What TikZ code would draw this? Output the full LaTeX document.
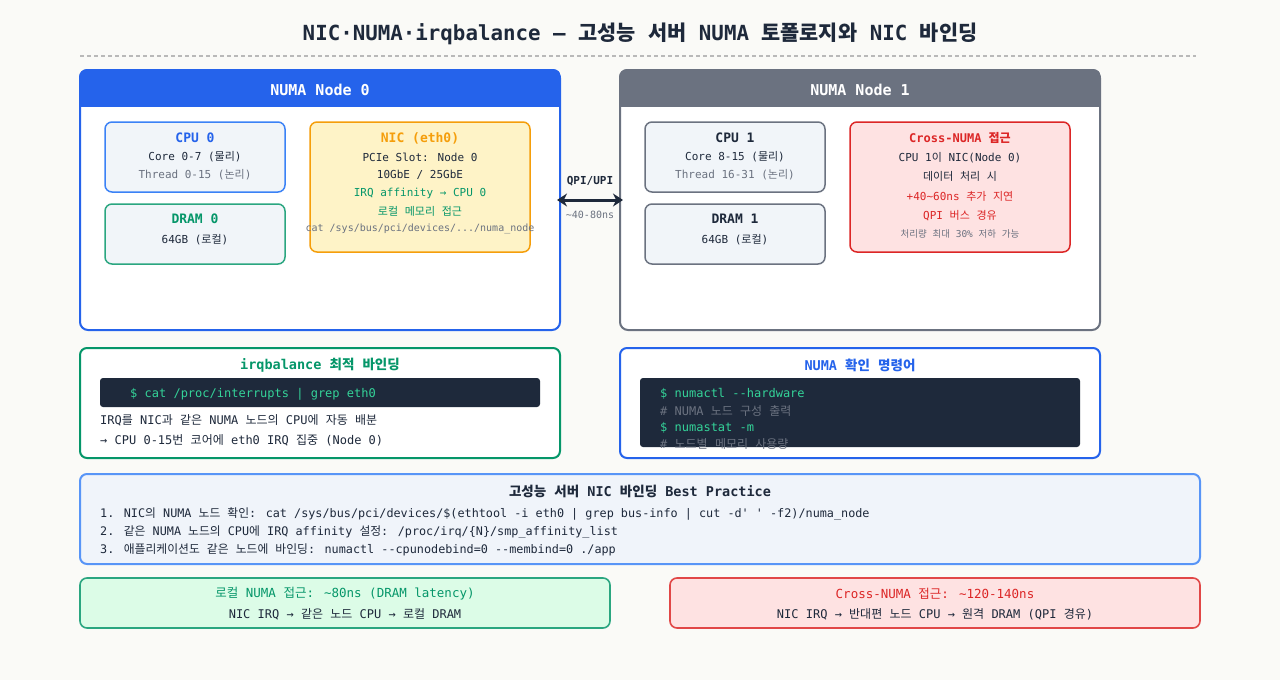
\documentclass[tikz,border=0pt]{standalone}
\usepackage{fontspec}
\setmainfont{DejaVu Sans Mono}[Ligatures=TeXOff]
\newfontfamily\krfont{Noto Sans CJK KR}
% Hangul goes to the CJK font, everything else stays mono
\XeTeXinterchartokenstate=1
\newXeTeXintercharclass\krclass
\count255="AC00
\loop
  \XeTeXcharclass\count255=\krclass
  \ifnum\count255<"D7A3 \advance\count255 by 1 \repeat
\XeTeXinterchartoks 0 \krclass={\krfont}
\XeTeXinterchartoks 4095 \krclass={\krfont}
\XeTeXinterchartoks \krclass 0={\rmfamily}
\XeTeXinterchartoks \krclass 4095={\rmfamily}
\usepackage{tikz}
\usetikzlibrary{arrows.meta,positioning}
\definecolor{bg}{RGB}{250,250,247}
\definecolor{ink}{RGB}{30,41,59}
\definecolor{nblue}{RGB}{37,99,235}
\definecolor{ngray}{RGB}{107,114,128}
\definecolor{cpub}{RGB}{59,130,246}
\definecolor{paleb}{RGB}{241,245,249}
\definecolor{dgreen}{RGB}{5,150,105}
\definecolor{lgreen}{RGB}{220,252,231}
\definecolor{amber}{RGB}{245,158,11}
\definecolor{pale}{RGB}{254,243,199}
\definecolor{alert}{RGB}{220,38,38}
\definecolor{pink}{RGB}{254,226,226}
\definecolor{mute}{RGB}{107,114,128}
\definecolor{codebg}{RGB}{30,41,59}
\definecolor{codegr}{RGB}{52,211,153}
\definecolor{bpfill}{RGB}{240,244,250}
\newcommand\tld{\char"7E\relax}

\begin{document}
\begin{tikzpicture}[x=1pt,y=-1pt,
  numabox/.style={draw,fill=white,rounded corners=8pt,line width=2pt,minimum width=480pt,minimum height=260pt},
  hdrtext/.style={text=white,inner sep=0pt,font=\bfseries\fontsize{15}{18}\selectfont},
  inbox/.style={draw,rounded corners=7pt,line width=1.5pt},
  panel/.style={draw,rounded corners=7pt,line width=2pt},
  ttl/.style={inner sep=0pt,font=\bfseries\fontsize{13}{16}\selectfont},
  txt/.style={inner sep=0pt,text=ink,font=\fontsize{11}{13}\selectfont},
  small/.style={inner sep=0pt,font=\fontsize{10}{12}\selectfont},
  line/.style={inner sep=0pt,text=ink,anchor=west,font=\fontsize{12}{14}\selectfont},
  codebar/.style={fill=codebg,rounded corners=3pt,inner sep=0pt},
  code/.style={inner sep=0pt,anchor=west,font=\fontsize{12}{14}\selectfont}]
  \fill[bg] (0,0) rectangle (1280,680);
  \useasboundingbox (0,0) rectangle (1280,680);
  % title
  \node[text=ink,font=\bfseries\fontsize{20.8}{24}\selectfont] (title) at (640,34) {NIC·NUMA·irqbalance — 고성능 서버 NUMA 토폴로지와 NIC 바인딩};
  \draw[gray!55,line width=1.2pt,dash pattern=on 4pt off 3pt] (80,56) -- (1196,56);
  % NUMA node 0
  \node[numabox,draw=nblue] (node0) at (320,200) {};
  \begin{scope}
    \clip[rounded corners=8pt] (node0.north west) rectangle (node0.south east);
    \fill[nblue] (node0.north west) rectangle ([yshift=-38pt]node0.north east);
  \end{scope}
  \node[hdrtext] (node0t) at (320,90) {NUMA Node 0};
  \node[inbox,draw=cpub,fill=paleb,minimum width=180pt,minimum height=70pt] (cpu0) at (195,157) {};
  \node[ttl,text=nblue] (cpu0t) at (195,138) {CPU 0};
  \node[txt] (cpu0a) at (195,157) {Core 0-7 (물리)};
  \node[txt,text=mute] (cpu0b) at (195,175) {Thread 0-15 (논리)};
  \node[inbox,draw=dgreen!85,fill=paleb,minimum width=180pt,minimum height=60pt] (dram0) at (195,234) {};
  \node[ttl,text=dgreen] (dram0t) at (195,219) {DRAM 0};
  \node[txt] (dram0a) at (195,240) {64GB (로컬)};
  \node[inbox,draw=amber,fill=pale,minimum width=220pt,minimum height=130pt] (nic) at (420,187) {};
  \node[ttl,text=amber] (nict) at (420,138) {NIC (eth0)};
  \node[txt] (nica) at (420,157) {PCIe Slot: Node 0};
  \node[txt] (nicb) at (420,175) {10GbE / 25GbE};
  \node[txt,text=dgreen] (nicc) at (420,193) {IRQ affinity → CPU 0};
  \node[txt,text=dgreen] (nicd) at (420,211) {로컬 메모리 접근};
  \node[small,text=mute] (nice) at (420,229) {cat /sys/bus/pci/devices/.../numa\_node};
  % NUMA node 1
  \node[numabox,draw=ngray] (node1) at (860,200) {};
  \begin{scope}
    \clip[rounded corners=8pt] (node1.north west) rectangle (node1.south east);
    \fill[ngray] (node1.north west) rectangle ([yshift=-38pt]node1.north east);
  \end{scope}
  \node[hdrtext] (node1t) at (860,90) {NUMA Node 1};
  \node[inbox,draw=ngray,fill=paleb,minimum width=180pt,minimum height=70pt] (cpu1) at (735,157) {};
  \node[ttl,text=ink] (cpu1t) at (735,138) {CPU 1};
  \node[txt] (cpu1a) at (735,157) {Core 8-15 (물리)};
  \node[txt,text=mute] (cpu1b) at (735,175) {Thread 16-31 (논리)};
  \node[inbox,draw=ngray,fill=paleb,minimum width=180pt,minimum height=60pt] (dram1) at (735,234) {};
  \node[ttl,text=ink] (dram1t) at (735,219) {DRAM 1};
  \node[txt] (dram1a) at (735,240) {64GB (로컬)};
  \node[inbox,draw=alert,fill=pink,minimum width=220pt,minimum height=130pt] (cross) at (960,187) {};
  \node[ttl,text=alert,font=\bfseries\fontsize{12}{15}\selectfont] (crosst) at (960,138) {Cross-NUMA 접근};
  \node[txt] (crossa) at (960,158) {CPU 1이 NIC(Node 0)};
  \node[txt] (crossb) at (960,176) {데이터 처리 시};
  \node[txt,text=alert] (crossc) at (960,196) {+40\tld60ns 추가 지연};
  \node[txt,text=alert] (crossd) at (960,216) {QPI 버스 경유};
  \node[small,text=mute,font=\fontsize{9.5}{12}\selectfont] (crosse) at (960,234) {처리량 최대 30\% 저하 가능};
  % QPI link
  \draw[{Stealth[length=10pt,width=13pt]}-{Stealth[length=10pt,width=13pt]},line width=3pt,ink,shorten <=-4pt,shorten >=-4pt] (node0.east) -- (node1.west);
  \node[small,text=ink,font=\bfseries\fontsize{11}{13}\selectfont] (qpit) at (590,181) {QPI/UPI};
  \node[small,text=mute] (qpil) at (590,215) {\tld40-80ns};
  % irqbalance
  \node[panel,draw=dgreen,fill=white,minimum width=480pt,minimum height=110pt] (irq) at (320,403) {};
  \node[ttl,text=dgreen,font=\bfseries\fontsize{13.5}{16}\selectfont] (irqt) at (320,365) {irqbalance 최적 바인딩};
  \node[codebar,minimum width=440pt,minimum height=29pt] (irqcode) at (320,392.5) {};
  \node[code,text=codegr] (irqc) at (130,394) {\$ cat /proc/interrupts | grep eth0};
  \node[line] (irqa) at (100,420) {IRQ를 NIC과 같은 NUMA 노드의 CPU에 자동 배분};
  \node[line] (irqb) at (100,440) {→ CPU 0-15번 코어에 eth0 IRQ 집중 (Node 0)};
  % NUMA commands
  \node[panel,draw=nblue,fill=white,minimum width=480pt,minimum height=110pt] (cmd) at (860,403) {};
  \node[ttl,text=nblue,font=\bfseries\fontsize{13.5}{16}\selectfont] (cmdt) at (860,365) {NUMA 확인 명령어};
  \node[codebar,minimum width=440pt,minimum height=69pt] (cmdcode) at (860,412.5) {};
  \node[code,text=codegr] (cmda) at (660,394) {\$ numactl --hardware};
  \node[code,text=mute] (cmdb) at (660,411) {\# NUMA 노드 구성 출력};
  \node[code,text=codegr] (cmdc) at (660,428) {\$ numastat -m};
  \node[code,text=mute] (cmdd) at (660,444) {\# 노드별 메모리 사용량};
  % best practice
  \node[panel,draw=cpub!85,fill=bpfill,minimum width=1120pt,minimum height=90pt] (bp) at (640,519) {};
  \node[ttl,text=ink,font=\bfseries\fontsize{13.5}{16}\selectfont] (bpt) at (640,491) {고성능 서버 NIC 바인딩 Best Practice};
  \node[line,font=\fontsize{11.8}{14}\selectfont] (bpa) at (100,514) {1. NIC의 NUMA 노드 확인: cat /sys/bus/pci/devices/\$(ethtool -i eth0 | grep bus-info | cut -d' ' -f2)/numa\_node};
  \node[line,font=\fontsize{11.8}{14}\selectfont] (bpb) at (100,532) {2. 같은 NUMA 노드의 CPU에 IRQ affinity 설정: /proc/irq/\{N\}/smp\_affinity\_list};
  \node[line,font=\fontsize{11.8}{14}\selectfont] (bpc) at (100,550) {3. 애플리케이션도 같은 노드에 바인딩: numactl --cpunodebind=0 --membind=0 ./app};
  % latency summary
  \node[panel,line width=1.6pt,draw=dgreen!85,fill=lgreen,minimum width=530pt,minimum height=50pt] (local) at (345,603) {};
  \node[txt,text=dgreen,font=\fontsize{12.5}{15}\selectfont] (locala) at (345,594) {로컬 NUMA 접근: \tld80ns (DRAM latency)};
  \node[txt,font=\fontsize{12}{14}\selectfont] (localb) at (345,614) {NIC IRQ → 같은 노드 CPU → 로컬 DRAM};
  \node[panel,line width=1.6pt,draw=alert!85,fill=pink,minimum width=530pt,minimum height=50pt] (remote) at (935,603) {};
  \node[txt,text=alert,font=\fontsize{12.5}{15}\selectfont] (remotea) at (935,594) {Cross-NUMA 접근: \tld120-140ns};
  \node[txt,font=\fontsize{12}{14}\selectfont] (remoteb) at (935,614) {NIC IRQ → 반대편 노드 CPU → 원격 DRAM (QPI 경유)};
\end{tikzpicture}
\end{document}
